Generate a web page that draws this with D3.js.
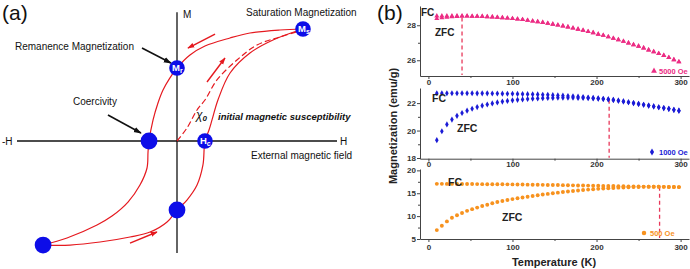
<!DOCTYPE html>
<html>
<head>
<meta charset="utf-8">
<script src="https://cdn.jsdelivr.net/npm/d3@7"></script>
<style>
    body { margin: 0; background: #fff; }
    svg { display: block; font-family: "Liberation Sans", Arial, sans-serif; }
</style>
</head>
<body>
<div id="chart"></div>
<script>
// ---------- panel (a): schematic hysteresis loop, normalised (H, M) units
const descendingBranch = [
    [1.0, 1.0], [0.817, 0.991], [0.579, 0.964], [0.421, 0.92], [0.222, 0.848], [0.103, 0.768],
    [0, 0.652], [-0.056, 0.563], [-0.111, 0.455], [-0.151, 0.339], [-0.19, 0.188], [-0.222, 0],
    [-0.23, -0.098], [-0.238, -0.241], [-0.294, -0.393], [-0.389, -0.545], [-0.516, -0.67],
    [-0.635, -0.75], [-0.873, -0.866], [-1.063, -0.929]
];
const ascendingBranch = [
    [-1.063, -0.929], [-0.849, -0.929], [-0.611, -0.902], [-0.373, -0.857], [-0.214, -0.813],
    [-0.079, -0.723], [0, -0.616], [0.079, -0.527], [0.159, -0.393], [0.206, -0.214], [0.222, 0],
    [0.254, 0.098], [0.278, 0.188], [0.325, 0.366], [0.421, 0.607], [0.579, 0.786], [0.762, 0.902],
    [1.0, 1.0]
];
const initialCurve = [
    [0, 0], [0.079, 0.116], [0.159, 0.277], [0.222, 0.366], [0.317, 0.545], [0.476, 0.723],
    [0.635, 0.857], [0.817, 0.929], [1.0, 0.991]
];
const loopPoints = [
    {h: 1.0, m: 1.0, label: "M", sub: "s"},
    {h: 0, m: 0.652, label: "M", sub: "r"},
    {h: -0.222, m: 0, label: "", sub: ""},
    {h: 0.222, m: 0, label: "H", sub: "c"},
    {h: 0, m: -0.616, label: "", sub: ""},
    {h: -1.063, m: -0.929, label: "", sub: ""}
];
const directionArrows = [
    [[0.302, 0.955], [0.087, 0.83]],
    [[0.238, 0.527], [0.381, 0.741]],
    [[-0.373, -0.911], [-0.159, -0.8125]]
];
const pointerArrows = [
    [[-0.278, 0.83], [-0.048, 0.696]],
    [[-0.548, 0.232], [-0.286, 0.071]]
];

// ---------- panel (b): M(T) curves
const temps = [10, 16, 22, 28, 34, 40, 46, 52, 58, 64, 70, 76, 82, 88, 94, 100, 106, 112, 118, 124,
    130, 136, 142, 148, 154, 160, 166, 172, 178, 184, 190, 196, 202, 208, 214, 220, 226, 232, 238, 244,
    250, 256, 262, 268, 274, 280, 286, 292, 298];

const fc5000 = [28.53, 28.53, 28.53, 28.53, 28.53, 28.52, 28.52, 28.51, 28.51, 28.50,
    28.49, 28.47, 28.45, 28.43, 28.41, 28.38, 28.35, 28.32, 28.28, 28.24,
    28.20, 28.16, 28.11, 28.06, 28.01, 27.96, 27.90, 27.84, 27.77, 27.71,
    27.64, 27.57, 27.49, 27.42, 27.34, 27.25, 27.17, 27.08, 26.99, 26.89,
    26.80, 26.70, 26.59, 26.49, 26.38, 26.27, 26.15, 26.03, 25.91];
const zfc5000 = [28.38, 28.42, 28.45, 28.48, 28.50, 28.52, 28.52, 28.51, 28.51, 28.50,
    28.49, 28.47, 28.45, 28.43, 28.41, 28.38, 28.35, 28.32, 28.28, 28.24,
    28.20, 28.16, 28.11, 28.06, 28.01, 27.96, 27.90, 27.84, 27.77, 27.71,
    27.64, 27.57, 27.49, 27.42, 27.34, 27.25, 27.17, 27.08, 26.99, 26.89,
    26.80, 26.70, 26.59, 26.49, 26.38, 26.27, 26.15, 26.03, 25.91];

const fc1000 = [22.72, 22.72, 22.72, 22.72, 22.72, 22.72, 22.72, 22.72, 22.71, 22.71,
    22.71, 22.70, 22.70, 22.69, 22.68, 22.68, 22.67, 22.66, 22.65, 22.64,
    22.63, 22.61, 22.60, 22.58, 22.56, 22.54, 22.52, 22.50, 22.47, 22.44,
    22.41, 22.38, 22.35, 22.31, 22.28, 22.23, 22.18, 22.12, 22.06, 22.00,
    21.94, 21.88, 21.82, 21.76, 21.70, 21.64, 21.58, 21.51, 21.45];
const zfc1000 = [19.30, 19.95, 20.45, 20.80, 21.07, 21.28, 21.45, 21.59, 21.71, 21.81,
    21.90, 21.98, 22.05, 22.11, 22.16, 22.20, 22.24, 22.27, 22.30, 22.32,
    22.34, 22.36, 22.37, 22.38, 22.39, 22.39, 22.39, 22.39, 22.38, 22.37,
    22.36, 22.34, 22.32, 22.30, 22.27, 22.23, 22.18, 22.12, 22.06, 22.00,
    21.94, 21.88, 21.82, 21.76, 21.70, 21.64, 21.58, 21.51, 21.45];

const fc500 = [17.05, 17.05, 17.04, 17.04, 17.03, 17.03, 17.02, 17.01, 17.00, 16.99,
    16.98, 16.97, 16.96, 16.95, 16.94, 16.93, 16.91, 16.90, 16.88, 16.87,
    16.85, 16.84, 16.82, 16.80, 16.79, 16.77, 16.75, 16.73, 16.71, 16.69,
    16.67, 16.65, 16.63, 16.61, 16.59, 16.57, 16.55, 16.53, 16.51, 16.49,
    16.47, 16.45, 16.44, 16.43, 16.42, 16.40, 16.38, 16.36, 16.34];
const zfc500 = [6.94, 7.90, 8.85, 9.65, 10.20, 10.70, 11.15, 11.52, 11.86, 12.20,
    12.50, 12.80, 13.07, 13.30, 13.52, 13.72, 13.90, 14.07, 14.24, 14.40,
    14.56, 14.71, 14.86, 15.00, 15.13, 15.26, 15.38, 15.50, 15.60, 15.70,
    15.80, 15.88, 15.96, 16.04, 16.10, 16.16, 16.22, 16.27, 16.31, 16.35,
    16.38, 16.40, 16.42, 16.41, 16.42, 16.40, 16.38, 16.36, 16.34];

// irreversibility temperature and the moment where the dashed line starts
const splitTemps = [40, 215, 275];
const splitValues = [28.45, 22.24, 16.42];
const fieldLabels = ["5000 Oe", "1000 Oe", "500 Oe"];
const xTicks = [0, 100, 200, 300];
const xMinorTicks = [50, 150, 250];

const red = "#e5191f", dotBlue = "#0d0de8", axisColor = "#444";

const svg = d3.select("#chart").append("svg")
    .attr("width", 690)
    .attr("height", 269);

// arrow heads
let defs = svg.append("defs");
[["head-red", red, 7], ["head-black", "#111", 8]].forEach(([id, col, s]) => {
    defs.append("marker")
        .attr("id", id)
        .attr("viewBox", "0 0 10 10")
        .attr("refX", 9).attr("refY", 5)
        .attr("markerUnits", "userSpaceOnUse")
        .attr("markerWidth", s).attr("markerHeight", s)
        .attr("orient", "auto")
        .append("path")
        .attr("d", "M0,1.5L10,5L0,8.5z")
        .attr("fill", col);
});

// ================= panel (a)
let xA = d3.scaleLinear().domain([-1.27, 1.27]).range([17, 337]);
let yA = d3.scaleLinear().domain([-1, 1]).range([253, 29]);

let gA = svg.append("g");

gA.append("text").text("(a)")
    .attr("x", 2).attr("y", 20)
    .attr("font-size", 21).attr("fill", "#111");

// axes
gA.append("line")
    .attr("x1", xA(-1.27)).attr("x2", xA(1.27))
    .attr("y1", yA(0)).attr("y2", yA(0))
    .attr("stroke", "#111").attr("stroke-width", 1.3);
gA.append("line")
    .attr("x1", xA(0)).attr("x2", xA(0))
    .attr("y1", yA(1.15)).attr("y2", yA(-1))
    .attr("stroke", "#111").attr("stroke-width", 1.3);

let loopLine = d3.line()
    .x(d => xA(d[0]))
    .y(d => yA(d[1]))
    .curve(d3.curveCatmullRom.alpha(0.5));

[descendingBranch, ascendingBranch].forEach(branch => {
    gA.append("path")
        .attr("d", loopLine(branch))
        .attr("fill", "none")
        .attr("stroke", red)
        .attr("stroke-width", 1.2);
});

gA.append("path")
    .attr("d", loopLine(initialCurve))
    .attr("fill", "none")
    .attr("stroke", red)
    .attr("stroke-width", 1.2)
    .attr("stroke-dasharray", "6,3");

// direction arrows on the loop
directionArrows.forEach(a => {
    gA.append("line")
        .attr("x1", xA(a[0][0])).attr("y1", yA(a[0][1]))
        .attr("x2", xA(a[1][0])).attr("y2", yA(a[1][1]))
        .attr("stroke", red).attr("stroke-width", 1.4)
        .attr("marker-end", "url(#head-red)");
});

// annotation pointers
pointerArrows.forEach(a => {
    gA.append("line")
        .attr("x1", xA(a[0][0])).attr("y1", yA(a[0][1]))
        .attr("x2", xA(a[1][0])).attr("y2", yA(a[1][1]))
        .attr("stroke", "#111").attr("stroke-width", 1.6)
        .attr("marker-end", "url(#head-black)");
});

// blue points
gA.selectAll(".loop-pt")
    .data(loopPoints)
    .join("circle")
    .attr("class", "loop-pt")
    .attr("cx", d => xA(d.h))
    .attr("cy", d => yA(d.m))
    .attr("r", d => d.label ? 7.8 : 8.4)
    .attr("fill", dotBlue);

let ptLabels = gA.selectAll(".loop-lab")
    .data(loopPoints.filter(d => d.label))
    .join("text")
    .attr("class", "loop-lab")
    .attr("x", d => xA(d.h) - 5)
    .attr("y", d => yA(d.m) + 3)
    .attr("fill", "#fff")
    .attr("font-size", 9.5)
    .attr("font-weight", "bold");
ptLabels.append("tspan").text(d => d.label);
ptLabels.append("tspan").text(d => d.sub).attr("font-size", 7).attr("dy", 2);

// text
let labelA = [
    {t: "M", x: 183, y: 18},
    {t: "Saturation Magnetization", x: 246, y: 16},
    {t: "Remanence Magnetization", x: 15, y: 50},
    {t: "Coercivity", x: 73, y: 105},
    {t: "-H", x: 2, y: 145},
    {t: "H", x: 340, y: 145},
    {t: "External magnetic field", x: 251, y: 159}
];
gA.selectAll(".lab-a")
    .data(labelA)
    .join("text")
    .attr("class", "lab-a")
    .attr("x", d => d.x).attr("y", d => d.y)
    .attr("font-size", 10)
    .attr("fill", "#111")
    .text(d => d.t);

let chi = gA.append("text")
    .attr("x", 196).attr("y", 119)
    .attr("font-size", 12).attr("font-style", "italic").attr("fill", "#111");
chi.append("tspan").text("χ");
chi.append("tspan").text("0").attr("font-size", 8).attr("font-weight", "bold").attr("dy", 2);

gA.append("text")
    .attr("x", 218).attr("y", 120)
    .attr("font-size", 9.5)
    .attr("font-style", "italic")
    .attr("font-weight", "bold")
    .attr("fill", "#111")
    .text("initial magnetic susceptibility");

// ================= panel (b)
svg.append("text").text("(b)")
    .attr("x", 377).attr("y", 20)
    .attr("font-size", 21).attr("fill", "#111");

let xB = d3.scaleLinear().domain([-10, 310]).range([420, 689]);

let panels = [
    {fc: fc5000, zfc: zfc5000, domain: [25.1, 29.1], range: [76, 6], ticks: [26, 28], minor: [27],
        color: "#ec2d84", symbol: d3.symbolTriangle, size: 11, pad: 0,
        fcPos: [421, 16], zfcPos: [435, 36], legend: [654, 71, 659]},
    {fc: fc1000, zfc: zfc1000, domain: [17.95, 23.1], range: [158.7, 88], ticks: [18, 20, 22], minor: [19, 21],
        color: "#1b1bd6", symbol: d3.symbolDiamond, size: 11, pad: 0,
        fcPos: [432, 102], zfcPos: [457, 132], legend: [652, 152, 659]},
    {fc: fc500, zfc: zfc500, domain: [5, 20.3], range: [239, 169], ticks: [5, 10, 15, 20], minor: [7.5, 12.5, 17.5],
        color: "#f7921e", symbol: d3.symbolCircle, size: 12, pad: 2,
        fcPos: [448, 186], zfcPos: [502, 221], legend: [644, 233, 650]}
];

function styleAxis(g) {
    g.select(".domain").attr("stroke", axisColor);
    g.selectAll(".tick line").attr("stroke", axisColor);
    g.selectAll(".tick text")
        .attr("font-size", 8)
        .attr("font-weight", "bold")
        .attr("font-family", "Liberation Sans, Arial, sans-serif")
        .attr("fill", "#333");
}

panels.forEach((p, i) => {
    let y = d3.scaleLinear().domain(p.domain).range(p.range);
    let g = svg.append("g");

    // axes
    let xAxis = g.append("g")
        .attr("transform", `translate(0,${p.range[0]})`)
        .call(d3.axisBottom(xB).tickValues(xTicks).tickSize(3).tickSizeOuter(0).tickPadding(p.pad));
    styleAxis(xAxis);
    g.append("g")
        .attr("transform", `translate(0,${p.range[0]})`)
        .call(d3.axisBottom(xB).tickValues(xMinorTicks).tickSize(2).tickFormat(""))
        .call(a => a.select(".domain").remove())
        .selectAll("line").attr("stroke", axisColor);

    let yAxis = g.append("g")
        .attr("transform", `translate(${xB(-10)},0)`)
        .call(d3.axisLeft(y).tickValues(p.ticks).tickFormat(d3.format("d"))
            .tickSize(3).tickSizeOuter(0).tickPadding(1));
    styleAxis(yAxis);
    g.append("g")
        .attr("transform", `translate(${xB(-10)},0)`)
        .call(d3.axisLeft(y).tickValues(p.minor).tickSize(2).tickFormat(""))
        .call(a => a.select(".domain").remove())
        .selectAll("line").attr("stroke", axisColor);

    // dashed irreversibility line
    g.append("line")
        .attr("x1", xB(splitTemps[i])).attr("x2", xB(splitTemps[i]))
        .attr("y1", y(splitValues[i])).attr("y2", p.range[0] - 1)
        .attr("stroke", "#e8385a")
        .attr("stroke-width", 1.3)
        .attr("stroke-dasharray", "4,3");

    // points
    let sym = d3.symbol().type(p.symbol).size(p.size);
    [p.zfc, p.fc].forEach(series => {
        g.selectAll(null)
            .data(temps.map((t, j) => ({t: t, m: series[j]})))
            .join("path")
            .attr("transform", d => `translate(${xB(d.t)},${y(d.m)})`)
            .attr("d", sym)
            .attr("fill", p.color);
    });

    // curve labels
    [["FC", p.fcPos], ["ZFC", p.zfcPos]].forEach(([t, pos]) => {
        g.append("text")
            .attr("x", pos[0]).attr("y", pos[1])
            .attr("font-size", i === 0 ? 10 : 10.5)
            .attr("font-weight", "bold")
            .attr("fill", "#222")
            .text(t);
    });

    // legend
    g.append("path")
        .attr("transform", `translate(${p.legend[0]},${p.legend[1]})`)
        .attr("d", d3.symbol().type(p.symbol).size(p.size + 4))
        .attr("fill", p.color);
    g.append("text")
        .attr("x", p.legend[2]).attr("y", p.legend[1] + 3)
        .attr("font-size", 7.5)
        .attr("font-weight", "bold")
        .attr("fill", p.color)
        .text(fieldLabels[i]);
});

svg.append("text")
    .attr("transform", "translate(397,126)rotate(-90)")
    .attr("text-anchor", "middle")
    .attr("font-size", 11)
    .attr("font-weight", "bold")
    .attr("fill", "#222")
    .text("Magnetization (emu/g)");

svg.append("text")
    .attr("x", 554).attr("y", 266)
    .attr("text-anchor", "middle")
    .attr("font-size", 11)
    .attr("font-weight", "bold")
    .attr("fill", "#222")
    .text("Temperature (K)");
</script>
</body>
</html>
